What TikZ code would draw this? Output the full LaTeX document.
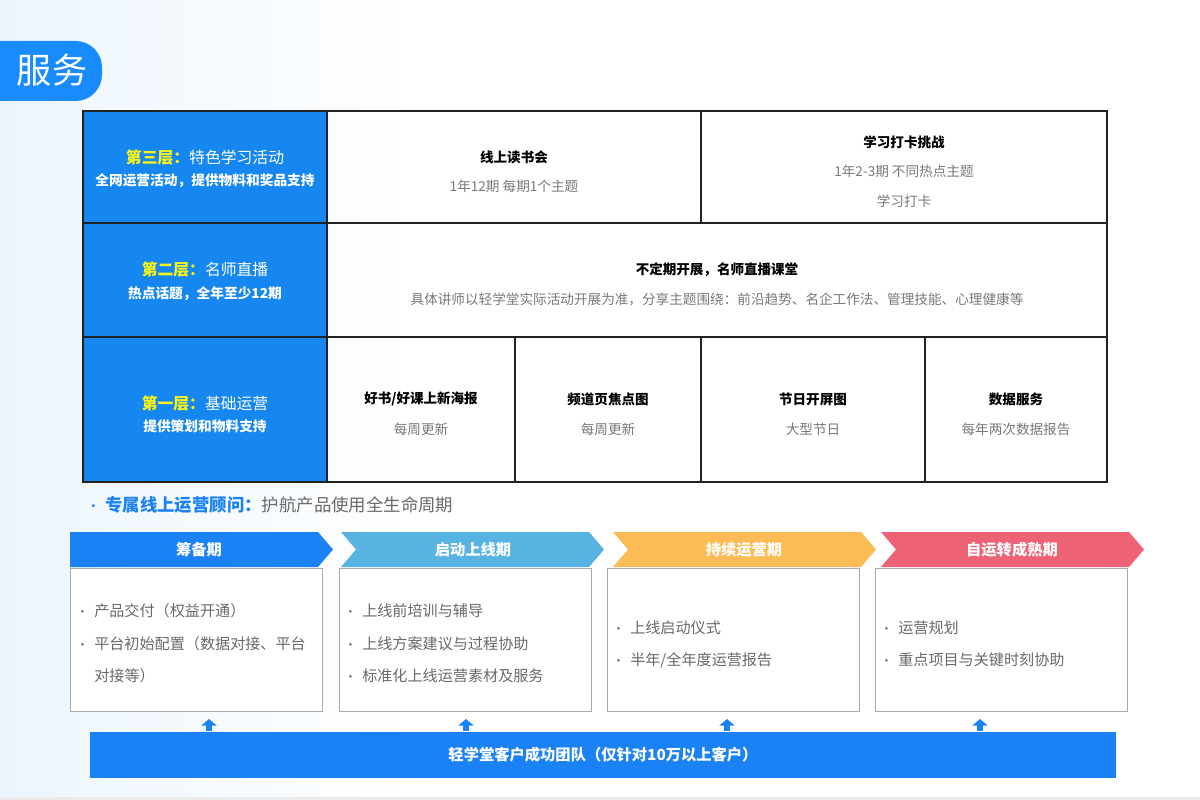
\documentclass[tikz,border=0pt]{standalone}
\usepackage{fontspec}
\setmainfont{Noto Sans CJK SC}
\usetikzlibrary{arrows.meta, positioning}

\definecolor{tabblue}{RGB}{24,140,255}
\definecolor{colblue}{RGB}{22,135,240}
\definecolor{hiyellow}{RGB}{250,245,20}
\definecolor{linedark}{RGB}{34,34,34}
\definecolor{graytext}{RGB}{105,105,105}
\definecolor{notegray}{RGB}{120,120,120}
\definecolor{boxgray}{RGB}{170,170,170}
\definecolor{phaseblue}{RGB}{27,130,245}
\definecolor{phasesky}{RGB}{86,179,226}
\definecolor{phaseorange}{RGB}{253,187,85}
\definecolor{phasered}{RGB}{238,98,117}
\definecolor{bgblue}{RGB}{236,245,253}

\newcommand{\itemdot}{\makebox[10.2pt][l]{\fontsize{7}{7}\selectfont •}}

\begin{document}
\begin{tikzpicture}[x=0.02cm, y=-0.02cm, >=Stealth,
    grid/.style={draw=linedark, line width=1pt},
    layer/.style={text=white, font=\fontsize{9}{11}\selectfont},
    layersub/.style={text=white, font=\bfseries\fontsize{7.8}{9}\selectfont},
    cellhead/.style={font=\bfseries\fontsize{7.7}{9}\selectfont},
    cellnote/.style={text=notegray, font=\fontsize{7.75}{9}\selectfont},
    phase/.style={text=white, font=\bfseries\fontsize{8.7}{10}\selectfont},
    phasebox/.style={draw=boxgray, fill=white, line width=0.6pt, anchor=north west,
        minimum width=5.04cm, minimum height=2.86cm, inner sep=0pt},
    item/.style={anchor=west, text=graytext, font=\fontsize{8.6}{10}\selectfont, inner sep=0pt},
    uparrow/.style={draw=phaseblue, line width=0.13cm, -{Triangle[width=0.3cm, length=0.13cm]},
        shorten >=0.14cm, shorten <=0.02cm}]

\useasboundingbox (0,0) rectangle (1200,800);
\shade[left color=bgblue, right color=white] (0,0) rectangle (420,800);
\draw[black!8, line width=2pt] (0,799) -- (1200,799);

% title tab
\fill[tabblue, rounded corners=15pt] (-60,41) rectangle (102,101);
\node[text=white, font=\fontsize{20}{24}\selectfont] (title) at (52,70) {服务};

% table
\fill[colblue] (83,111) rectangle (327,482);
\draw[grid] (83,111) rectangle (1107,482);
\draw[grid] (83,223) -- (1107,223);
\draw[grid] (83,337) -- (1107,337);
\draw[grid] (327,111) -- (327,482);
\draw[grid] (701,111) -- (701,223);
\draw[grid] (515,337) -- (515,482);
\draw[grid] (701,337) -- (701,482);
\draw[grid] (925,337) -- (925,482);

\node[layer] (l3) at (205,158) {\textcolor{hiyellow}{\bfseries 第三层：}特色学习活动};
\node[layersub] (l3sub) at (205,181) {全网运营活动，提供物料和奖品支持};
\node[layer] (l2) at (205,270) {\textcolor{hiyellow}{\bfseries 第二层：}名师直播};
\node[layersub] (l2sub) at (205,294) {热点话题，全年至少12期};
\node[layer] (l1) at (205,404) {\textcolor{hiyellow}{\bfseries 第一层：}基础运营};
\node[layersub] (l1sub) at (205,426) {提供策划和物料支持};

\node[cellhead] (club) at (514,157) {线上读书会};
\node[cellnote] (clubnote) at (514,186) {1年12期 每期1个主题};
\node[cellhead] (checkin) at (904,142) {学习打卡挑战};
\node[cellnote] (checkinnote) at (904,171) {1年2-3期 不同热点主题};
\node[cellnote] (checkinsub) at (904,201) {学习打卡};

\node[cellhead] (live) at (717,270) {不定期开展，名师直播课堂};
\node[cellnote] (livenote) at (717,299) {具体讲师以轻学堂实际活动开展为准，分享主题围绕：前沿趋势、名企工作法、管理技能、心理健康等};

\node[cellhead] (poster) at (421,399) {好书/好课上新海报};
\node[cellnote] (posternote) at (421,429) {每周更新};
\node[cellhead] (banner) at (608,399) {频道页焦点图};
\node[cellnote] (bannernote) at (608,429) {每周更新};
\node[cellhead] (splash) at (813,399) {节日开屏图};
\node[cellnote] (splashnote) at (813,429) {大型节日};
\node[cellhead] (data) at (1016,399) {数据服务};
\node[cellnote] (datanote) at (1016,429) {每年两次数据报告};

% advisor line
\node[anchor=west, inner sep=0pt, text=graytext, font=\fontsize{9.9}{12}\selectfont] (advisor) at (86,505)
    {\makebox[10.8pt][l]{\textcolor{phaseblue}{\fontsize{8}{8}\selectfont •}}\textcolor{phaseblue}{\bfseries 专属线上运营顾问：}护航产品使用全生命周期};

% phases
\fill[phaseblue] (70,532) -- (318,532) -- (333,549.5) -- (318,567) -- (70,567) -- cycle;
\fill[phasesky] (341,532) -- (589,532) -- (604,549.5) -- (589,567) -- (341,567) -- (356,549.5) -- cycle;
\fill[phaseorange] (613,532) -- (861,532) -- (876,549.5) -- (861,567) -- (613,567) -- (628,549.5) -- cycle;
\fill[phasered] (881,532) -- (1129,532) -- (1144,549.5) -- (1129,567) -- (881,567) -- (896,549.5) -- cycle;
\node[phase] (prep) at (199,549.5) {筹备期};
\node[phase] (launch) at (473,549.5) {启动上线期};
\node[phase] (run) at (744,549.5) {持续运营期};
\node[phase] (mature) at (1012,549.5) {自运转成熟期};

\node[phasebox] (box1) at (70,568) {};
\node[phasebox] (box2) at (339,568) {};
\node[phasebox] (box3) at (607,568) {};
\node[phasebox] (box4) at (875,568) {};

\node[item] (p1a) at (76,611) {\itemdot 产品交付（权益开通）};
\node[item] (p1b) at (76,644) {\itemdot 平台初始配置（数据对接、平台};
\node[item] (p1c) at (94,676) {对接等）};
\node[item] (p2a) at (344,611) {\itemdot 上线前培训与辅导};
\node[item] (p2b) at (344,644) {\itemdot 上线方案建议与过程协助};
\node[item] (p2c) at (344,676) {\itemdot 标准化上线运营素材及服务};
\node[item] (p3a) at (612,628) {\itemdot 上线启动仪式};
\node[item] (p3b) at (612,660) {\itemdot 半年/全年度运营报告};
\node[item] (p4a) at (880,628) {\itemdot 运营规划};
\node[item] (p4b) at (880,660) {\itemdot 重点项目与关键时刻协助};

% support team
\node[fill=phaseblue, minimum width=20.52cm, minimum height=0.92cm, inner sep=0pt,
    text=white, font=\bfseries\fontsize{8.7}{10}\selectfont] (team) at (603,755) {轻学堂客户成功团队（仅针对10万以上客户）};

\coordinate (a1) at (209,0);
\coordinate (a2) at (466,0);
\coordinate (a3) at (727,0);
\coordinate (a4) at (980,0);
\draw[uparrow] (team.north -| a1) -- (box1.south -| a1);
\draw[uparrow] (team.north -| a2) -- (box2.south -| a2);
\draw[uparrow] (team.north -| a3) -- (box3.south -| a3);
\draw[uparrow] (team.north -| a4) -- (box4.south -| a4);
\end{tikzpicture}
\end{document}
